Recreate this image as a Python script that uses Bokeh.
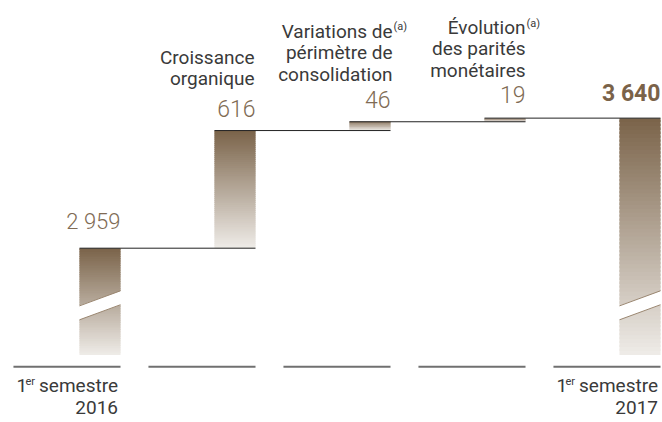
from bokeh.plotting import figure
from bokeh.models import Range1d
from bokeh.core.properties import value
from bokeh.embed import file_html
from bokeh.resources import INLINE

# ---------------- data ----------------
start_value = 2959                      # 1er semestre 2016
changes = [616, 46, 19]                 # organique, périmètre, parités
change_labels = ["Croissance\norganique",
                 "Variations de\npérimètre de\nconsolidation",
                 "Évolution\ndes parités\nmonétaires"]
change_notes = ["", "(a)", "(a)"]
period_first = ["1", "1"]
period_sup = ["er", "er"]
period_word = ["semestre", "semestre"]
period_year = ["2016", "2017"]

# ---------------- derived ----------------
end_value = start_value + sum(changes)  # 3 640
floor = 2400                            # visible base of the broken bars
tops, bottoms = [start_value], [floor]
run = start_value
for c in changes:
    bottoms.append(run); run += c; tops.append(run)
tops.append(end_value); bottoms.append(floor)
n = len(tops)
xs = list(range(n))
hw = 0.152

def fmt(v):
    return f"{v:,}".replace(",", " ")

FONT = "Roboto"
LIGHT = "'Roboto Light', Roboto"
W, H = 662, 422
p = figure(width=W, height=H, output_backend="svg", toolbar_location=None,
           x_range=Range1d(-0.737, 4.1667), y_range=Range1d(2046.4, 4255.9),
           min_border=0, outline_line_color=None)
p.axis.visible = False
p.grid.visible = False
p.background_fill_color = "white"
p.border_fill_color = "white"

def label(x, y, s, size, align, dx, dy, color="#3a3a3a", style="normal", font=FONT):
    # dy: baseline offset in px (positive = down); corrected for renderer baseline
    p.text(x=[x], y=[y], text=[s], text_font=value(font), text_font_size=f"{size}px",
           text_font_style=style, text_align=align, text_baseline="alphabetic",
           x_offset=dx, y_offset=dy - 0.35 * size, text_color=color)

# gradient bars
dark = (0x7a, 0x63, 0x49)
light = (0xef, 0xec, 0xe8)
N = 60
L, R, B, T, C = [], [], [], [], []
for i in xs:
    h = (tops[i] - bottoms[i]) / N
    for k in range(N):
        t = (k + 0.5) / N
        col = tuple(int(round(light[j] + (dark[j] - light[j]) * t)) for j in range(3))
        L.append(i - hw); R.append(i + hw)
        B.append(bottoms[i] + k * h)
        T.append(min(bottoms[i] + (k + 1.6) * h, tops[i]))
        C.append("#%02x%02x%02x" % col)
p.quad(left=L, right=R, bottom=B, top=T, fill_color=C, line_color=None)

# axis-break slashes on the first and last bars
for i in (0, n - 1):
    lx, rx = i - hw - 0.01, i + hw + 0.01
    p.patch([lx, rx, rx, lx], [floor + 182, floor + 264, floor + 338, floor + 256],
            fill_color="white", line_color=None)
    p.segment(x0=[i - hw, i - hw], y0=[floor + 184, floor + 257],
              x1=[i + hw, i + hw], y1=[floor + 263, floor + 336],
              line_color="#9a8670", line_width=1)

# connectors
p.segment(x0=[i - hw for i in xs[:-1]], y0=tops[:-1],
          x1=[i + 1 + hw for i in xs[:-1]], y1=tops[:-1],
          line_color="#222222", line_width=1)

# grey base lines
p.segment(x0=[i - 0.641 for i in xs], y0=[2338] * n,
          x1=[i + hw for i in xs], y1=[2338] * n,
          line_color="#707070", line_width=2)

# value labels
val_offsets = [-19, -14, -14, -16]
val_sizes = [22, 23, 23, 23]
vals = [start_value] + changes
for i in range(4):
    label(xs[i] + hw, tops[i], fmt(vals[i]), val_sizes[i], "right", 0,
          val_offsets[i], color="#806b54", font=LIGHT)
label(xs[-1] + hw, tops[-1], fmt(end_value), 23, "right", 0, -17,
      color="#7a6249", style="bold")

# category labels above the change bars
last_off = [45, 41, 41]
lab_dx = [-1, 2, 0]
for j, lab in enumerate(change_labels):
    i = j + 1
    lines = lab.split("\n")
    m = len(lines)
    for k, ln in enumerate(lines):
        off = last_off[j] + (m - 1 - k) * 21.5
        label(i + hw, tops[i], ln, 19, "right", lab_dx[j], -off)
    if change_notes[j]:
        first = last_off[j] + (m - 1) * 21.5
        label(i + hw, tops[i], change_notes[j], 11, "left", lab_dx[j] + 1, -(first + 7))

# period labels below the first and last bars
for j, i in enumerate((0, n - 1)):
    xr = i + hw
    label(xr, floor, period_word[j], 19, "right", -2.5, 37)
    label(xr, floor, period_first[j], 19, "left", -104, 37)
    label(xr, floor, period_sup[j], 11, "left", -95, 30)
    label(xr, floor, period_year[j], 19, "right", -2.5, 59)

open("out.html", "w").write(file_html(p, INLINE))
